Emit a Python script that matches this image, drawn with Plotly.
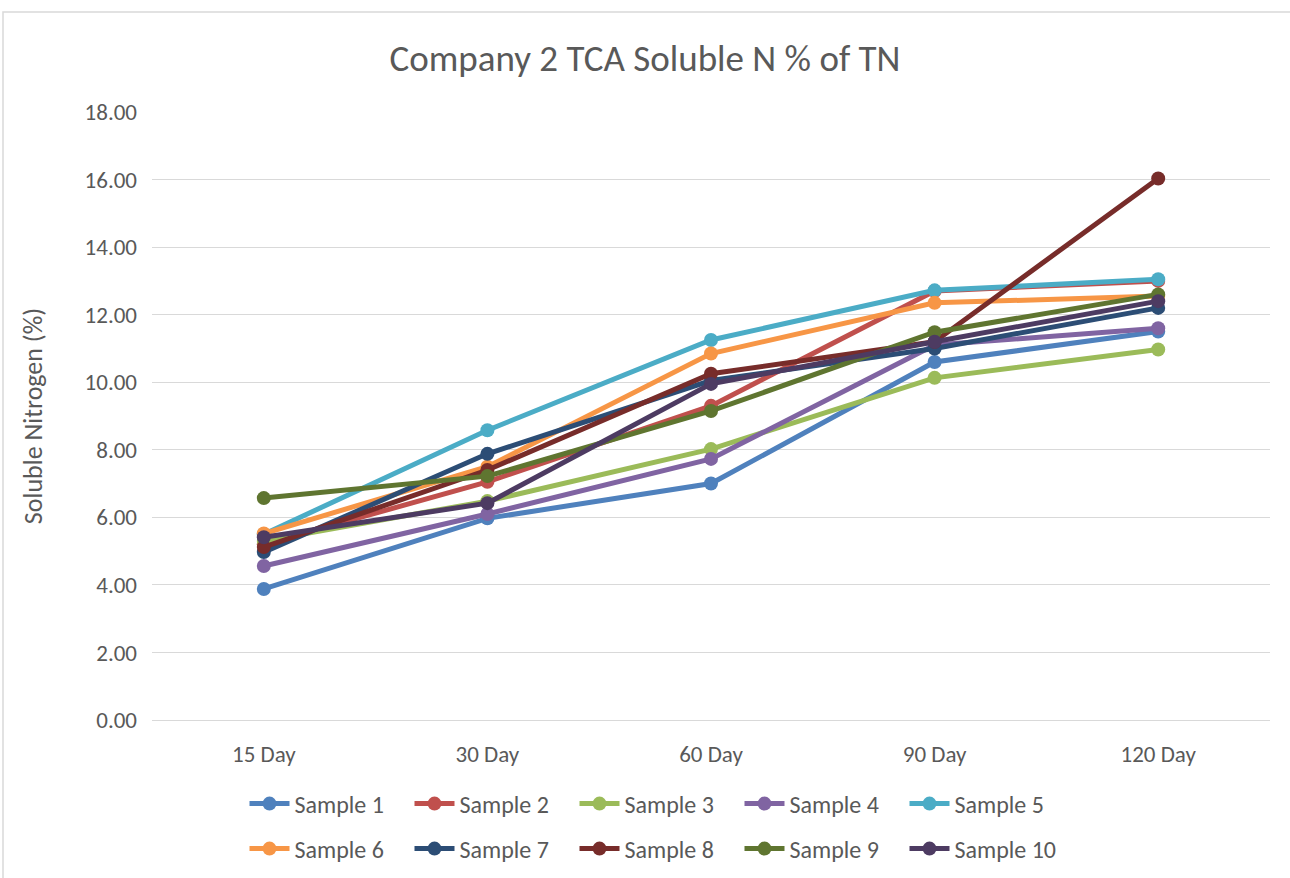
import plotly.graph_objects as go

categories = ["15 Day", "30 Day", "60 Day", "90 Day", "120 Day"]
sample_names = ["Sample 1", "Sample 2", "Sample 3", "Sample 4", "Sample 5",
                "Sample 6", "Sample 7", "Sample 8", "Sample 9", "Sample 10"]
s1 = [3.88, 5.97, 7.00, 10.60, 11.50]
s2 = [5.20, 7.05, 9.30, 12.70, 13.00]
s3 = [5.30, 6.48, 8.02, 10.13, 10.97]
s4 = [4.56, 6.10, 7.73, 11.10, 11.60]
s5 = [5.50, 8.58, 11.25, 12.72, 13.05]
s6 = [5.52, 7.50, 10.85, 12.35, 12.55]
s7 = [4.97, 7.88, 10.05, 11.00, 12.20]
s8 = [5.12, 7.40, 10.25, 11.20, 16.03]
s9 = [6.57, 7.22, 9.15, 11.48, 12.60]
s10 = [5.41, 6.42, 9.95, 11.20, 12.40]
series = [s1, s2, s3, s4, s5, s6, s7, s8, s9, s10]
colors = ["#4F81BD", "#C0504D", "#9BBB59", "#8064A2", "#4BACC6",
          "#F79646", "#2C4D75", "#772C2A", "#5F7530", "#4D3B62"]
y_ticks = [0, 2, 4, 6, 8, 10, 12, 14, 16, 18]

FONT = "Carlito, Calibri, Lato, sans-serif"
TXT = "#595959"

W, H = 1290, 878
ML, MR, MT, MB = 152, 20, 112, 158

fig = go.Figure()
for i, (name, vals, c) in enumerate(zip(sample_names, series, colors)):
    fig.add_trace(go.Scatter(
        x=categories, y=vals, name=name, mode="lines+markers",
        line=dict(color=c, width=5),
        marker=dict(color=c, size=14),
        legend="legend" if i < 5 else "legend2",
    ))

pw = W - ML - MR
ph = H - MT - MB

def px_x(p):
    return (p - ML) / pw

def px_y(p):
    return (H - MB - p) / ph

fig.update_layout(
    width=W, height=H,
    margin=dict(l=ML, r=MR, t=MT, b=MB),
    paper_bgcolor="white", plot_bgcolor="white",
    font=dict(family=FONT, color=TXT, size=23),
    title=dict(text="Company 2 TCA Soluble N % of TN", x=0.5, xanchor="center",
               y=1 - 58 / H, yanchor="middle",
               font=dict(family=FONT, size=37, color=TXT)),
    xaxis=dict(type="category", range=[-0.5, 4.5], showgrid=False,
               showline=False, ticks="", ticklabelstandoff=18,
               tickfont=dict(size=23, color=TXT)),
    yaxis=dict(range=[0, 18], tickvals=y_ticks, tickformat=".2f",
               showgrid=True, gridcolor="#D9D9D9", gridwidth=1.3,
               zeroline=True, zerolinecolor="#D9D9D9", zerolinewidth=1.3,
               showline=False, ticks="", ticklabelstandoff=14,
               tickfont=dict(size=23, color=TXT),
               title=dict(text="Soluble Nitrogen (%)", font=dict(size=26, color=TXT), standoff=34)),
    legend=dict(orientation="h", x=657 / W, xref="container", xanchor="center",
                y=1 - 804 / H, yref="container", yanchor="middle", font=dict(size=24, color=TXT),
                entrywidth=110, itemwidth=40, bgcolor="rgba(0,0,0,0)"),
    legend2=dict(orientation="h", x=657 / W, xref="container", xanchor="center",
                 y=1 - 849 / H, yref="container", yanchor="middle", font=dict(size=24, color=TXT),
                 entrywidth=110, itemwidth=40, bgcolor="rgba(0,0,0,0)"),
    shapes=[dict(type="rect", xref="paper", yref="paper",
                 x0=px_x(3), x1=px_x(1300), y0=px_y(890), y1=px_y(12),
                 line=dict(color="#D9D9D9", width=1.5), layer="below")],
)

fig.write_html("out.html", config={"displayModeBar": False},
               post_script="document.body.style.margin='0';")
